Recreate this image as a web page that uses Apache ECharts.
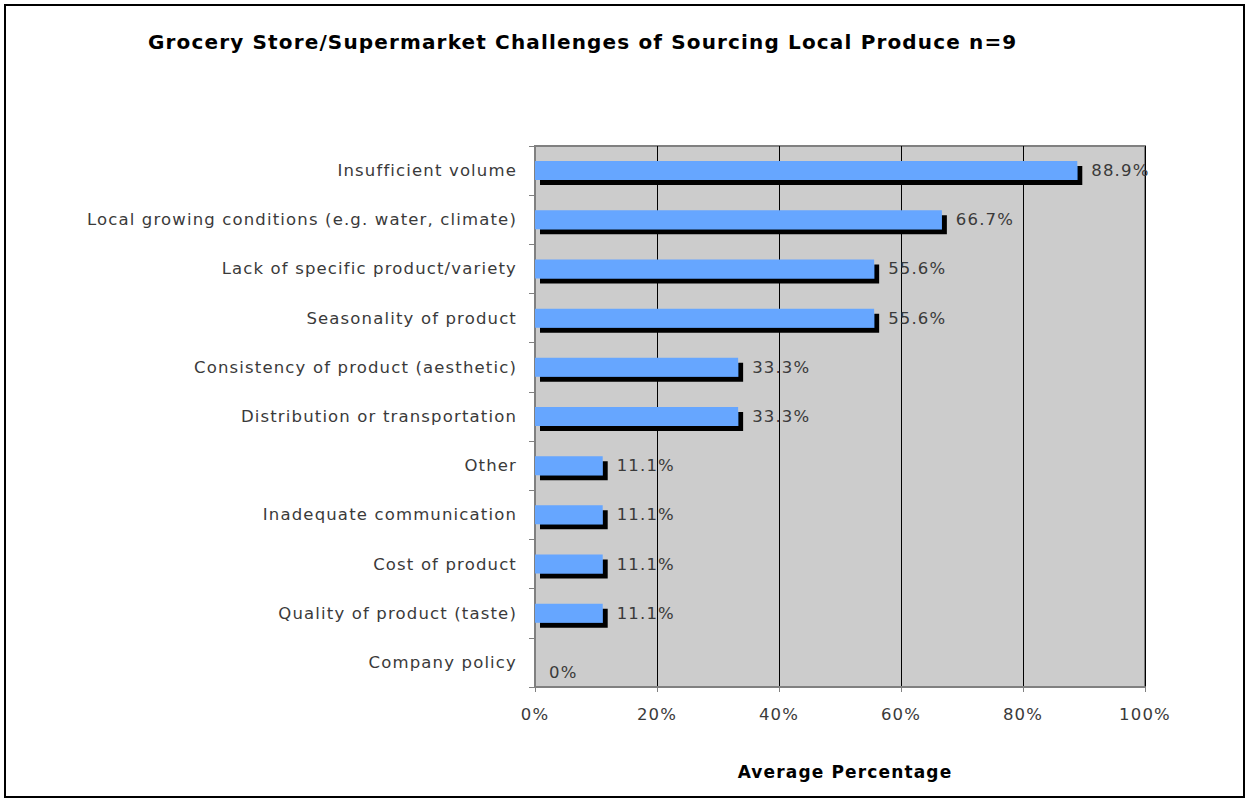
<!DOCTYPE html>
<html><head><meta charset="utf-8">
<script src="https://cdn.jsdelivr.net/npm/echarts@6/dist/echarts.min.js"></script>
<style>html,body{margin:0;padding:0;background:#fff}#c{width:1249px;height:803px}#c svg text{letter-spacing:1.15px}</style>
</head><body><div id="c"></div>
<script>
const categories = ["Insufficient volume","Local growing conditions (e.g. water, climate)","Lack of specific product/variety","Seasonality of product","Consistency of product (aesthetic)","Distribution or transportation","Other","Inadequate communication","Cost of product","Quality of product (taste)","Company policy"];
const values = [88.9, 66.7, 55.6, 55.6, 33.3, 33.3, 11.1, 11.1, 11.1, 11.1, 0];
const xTicks = [0, 20, 40, 60, 80, 100];
const FONT = "DejaVu Sans";
const chart = echarts.init(document.getElementById('c'), null, {renderer:'svg'});
chart.setOption({
  animation: false,
  textStyle: {fontFamily: FONT},
  graphic: [{type:'rect', shape:{x:5,y:5,width:1239,height:792}, style:{fill:'none', stroke:'#000', lineWidth:2}, silent:true}],
  title: {text:"Grocery Store/Supermarket Challenges of Sourcing Local Produce n=9", left:143, top:27,
    textStyle:{fontFamily:FONT, fontWeight:'bold', fontSize:20, color:'#000'}},
  grid: {left:535, right:104, top:146, bottom:116, show:true, backgroundColor:'#cccccc', borderColor:'#808080', borderWidth:2},
  xAxis: {type:'value', min:0, max:100, interval:20,
    axisLine:{show:true, lineStyle:{color:'#808080', width:2}},
    axisTick:{show:true, length:5, lineStyle:{color:'#808080'}},
    axisLabel:{formatter: v => xTicks.includes(v) ? v + '%' : '', fontSize:16.5, color:'#3a3a3a', margin:19},
    splitLine:{show:true, lineStyle:{color:'#000', width:1}},
    name:'Average Percentage', nameLocation:'middle', nameGap:76,
    nameTextStyle:{fontWeight:'bold', fontSize:17, color:'#000', padding:[0,0,0,10]}},
  yAxis: {type:'category', data:categories, inverse:true,
    axisLine:{show:true, lineStyle:{color:'#808080', width:2}},
    axisTick:{show:true, length:6, lineStyle:{color:'#808080'}},
    axisLabel:{fontSize:16.5, color:'#3a3a3a', margin:18}},
  series: [{type:'bar', barWidth:19,
    data: values.map(v => v === 0 ? {value:v, label:{offset:[0,10]}} : v),
    itemStyle:{color:'#66a6ff', shadowColor:'#000', shadowOffsetX:5, shadowOffsetY:5, shadowBlur:0},
    label:{show:true, position:'right', distance:14, fontSize:16.5, color:'#3a3a3a',
      formatter: p => p.value === 0 ? '0%' : p.value.toFixed(1) + '%'}}]
});
</script></body></html>
